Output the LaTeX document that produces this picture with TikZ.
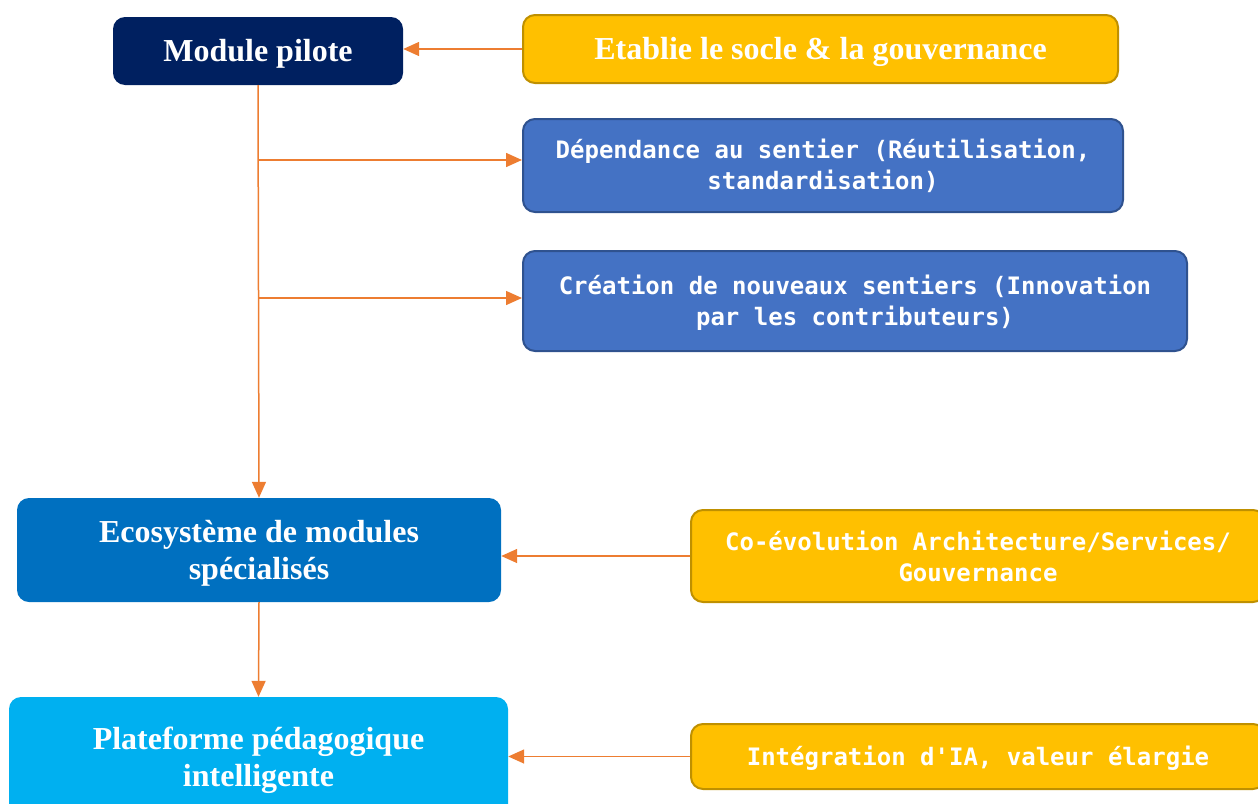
\documentclass[tikz,border=0pt]{standalone}
\usepackage{fontspec}
\setmainfont{Liberation Serif}
\setmonofont{DejaVu Sans Mono}
\usetikzlibrary{arrows.meta}
\definecolor{navyfill}{HTML}{002060}
\definecolor{gold}{HTML}{FFC000}
\definecolor{golddraw}{HTML}{BF9000}
\definecolor{pathblue}{HTML}{4472C4}
\definecolor{pathdraw}{HTML}{2F528F}
\definecolor{ecoblue}{HTML}{0070C0}
\definecolor{skyblue}{HTML}{00B0F0}
\definecolor{linkorange}{HTML}{ED7D31}
\tikzset{
  box/.style={rounded corners=12pt, text=white, align=center, inner sep=0pt},
  stagebox/.style={box, font=\bfseries\fontsize{32}{37}\selectfont},
  notebox/.style={box, font=\ttfamily\bfseries\fontsize{24}{31}\selectfont},
  goldbox/.style={fill=gold, draw=golddraw, line width=2pt},
  bluebox/.style={fill=pathblue, draw=pathdraw, line width=2pt},
  link/.style={draw=linkorange, line width=1.5pt, -{Triangle[length=16pt,width=14pt]}},
}
\begin{document}
\begin{tikzpicture}[x=1pt,y=1pt]
  \useasboundingbox (0,0) rectangle (1258,-803);
  % stages on the left
  \node[stagebox, fill=navyfill, minimum width=290, minimum height=68, text depth=2pt] (pilote) at (258,-51) {Module pilote};
  \node[stagebox, fill=ecoblue, minimum width=484, minimum height=104, text depth=-13pt] (eco) at (259,-550) {Ecosystème de modules\\spécialisés};
  \node[stagebox, fill=skyblue, minimum width=499, minimum height=120, text depth=1pt] (plateforme) at (258.5,-757) {Plateforme pédagogique\\intelligente};
  % notes on the right
  \node[stagebox, goldbox, minimum width=595, minimum height=68, text depth=2pt] (socle) at (820.5,-49) {Etablie le socle \& la gouvernance};
  \node[notebox, bluebox, minimum width=600, minimum height=93, text depth=2pt] (dependance) at (823,-165.5) {Dépendance au sentier (Réutilisation,\\standardisation)};
  \node[notebox, bluebox, minimum width=664, minimum height=100, text depth=2pt] (creation) at (855,-301) {Création de nouveaux sentiers (Innovation\\par les contributeurs)};
  \node[notebox, goldbox, minimum width=574, minimum height=92] (coevol) at (978,-556) {Co-évolution Architecture/Services/\\Gouvernance};
  \node[notebox, goldbox, minimum width=574, minimum height=65, text depth=1pt] (ia) at (978,-756.5) {Intégration d'IA, valeur élargie};
  % connectors
  \coordinate (b1) at (258,-160);
  \coordinate (b2) at (258,-298);
  \draw[link] (socle.west) -- (pilote.east |- socle.west);
  \draw[link] (pilote.south) -- (eco.north);
  \draw[link] (b1) -- (dependance.west |- b1);
  \draw[link] (b2) -- (creation.west |- b2);
  \draw[link] (coevol.west) -- (eco.east |- coevol.west);
  \draw[link] (eco.south) -- (plateforme.north);
  \draw[link] (ia.west) -- (plateforme.east |- ia.west);
\end{tikzpicture}
\end{document}
